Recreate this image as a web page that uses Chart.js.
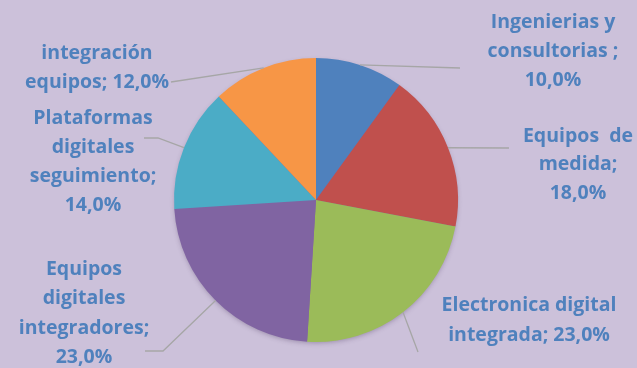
<!DOCTYPE html>
<html>
<head>
<meta charset="utf-8">
<script src="https://cdn.jsdelivr.net/npm/chart.js@4/dist/chart.umd.min.js"></script>
<style>
  html, body { margin: 0; padding: 0; background: #CCC1DA; }
  #wrap { width: 637px; height: 368px; position: relative; }
</style>
</head>
<body>
<div id="wrap"><canvas id="pie"></canvas></div>
<script>
const categories = [
  "Ingenierias y consultorias",
  "Equipos de medida",
  "Electronica digital integrada",
  "Equipos digitales integradores",
  "Plataformas digitales seguimiento",
  "integración equipos"
];
const shares = [10, 18, 23, 23, 14, 12];
const sliceColors = ["#4F81BD", "#C0504D", "#9BBB59", "#8064A2", "#4BACC6", "#F79646"];

// where each label sits and how its leader line bends ({pct} gets the value)
const labelLayout = [
  { x: 553, y: 22, step: 29, lines: ["Ingenierias y", "consultorias ;", "{pct}"], leader: [[460, 68]] },
  { x: 578, y: 136, step: 28.5, lines: ["Equipos  de", "medida;", "{pct}"], leader: [[509, 148]] },
  { x: 529, y: 305, step: 30, lines: ["Electronica digital", "integrada; {pct}"], leader: [[418, 352]] },
  { x: 84, y: 269, step: 29.5, lines: ["Equipos", "digitales", "integradores;", "{pct}"], leader: [[163, 351], [145, 351]] },
  { x: 93, y: 118, step: 29.3, lines: ["Plataformas", "digitales", "seguimiento;", "{pct}"], leader: [[158, 138], [144, 138]] },
  { x: 97, y: 53, step: 29, lines: ["integración", "equipos; {pct}"], leader: [[171, 82]] }
];

const fmtPct = v => v.toFixed(1).replace(".", ",") + "%";

const pieShadow = {
  id: "pieShadow",
  beforeDatasetsDraw(chart) {
    const arc = chart.getDatasetMeta(0).data[0];
    if (!arc) return;
    const ctx = chart.ctx;
    ctx.save();
    ctx.shadowColor = "rgba(60,40,80,0.35)";
    ctx.shadowBlur = 5;
    ctx.shadowOffsetY = 2;
    ctx.fillStyle = "#8064A2";
    ctx.beginPath();
    ctx.arc(arc.x, arc.y, arc.outerRadius - 1, 0, Math.PI * 2);
    ctx.fill();
    ctx.restore();
  }
};

const outsideLabels = {
  id: "outsideLabels",
  afterDatasetsDraw(chart) {
    const ctx = chart.ctx;
    const meta = chart.getDatasetMeta(0);
    ctx.save();
    meta.data.forEach((arc, i) => {
      const lay = labelLayout[i];
      const mid = (arc.startAngle + arc.endAngle) / 2;
      const sx = arc.x + Math.cos(mid) * arc.outerRadius;
      const sy = arc.y + Math.sin(mid) * arc.outerRadius;

      ctx.strokeStyle = "#A6A6A6";
      ctx.lineWidth = 1.3;
      ctx.beginPath();
      ctx.moveTo(sx, sy);
      lay.leader.forEach(p => ctx.lineTo(p[0], p[1]));
      ctx.stroke();

      ctx.fillStyle = "#4F81BD";
      ctx.font = "bold 19.5px 'Open Sans'";
      ctx.textAlign = "center";
      ctx.textBaseline = "middle";
      const pct = fmtPct(shares[i]);
      lay.lines.forEach((ln, k) => {
        ctx.fillText(ln.replace("{pct}", pct), lay.x, lay.y + k * lay.step);
      });
    });
    ctx.restore();
  }
};

new Chart(document.getElementById("pie"), {
  type: "pie",
  data: {
    labels: categories,
    datasets: [{
      data: shares,
      backgroundColor: sliceColors,
      borderWidth: 0,
      hoverOffset: 0
    }]
  },
  options: {
    responsive: true,
    maintainAspectRatio: false,
    animation: false,
    layout: { padding: { top: 58, bottom: 26, left: 0, right: 5 } },
    plugins: {
      legend: { display: false },
      tooltip: { enabled: false }
    }
  },
  plugins: [pieShadow, outsideLabels]
});
</script>
</body>
</html>
